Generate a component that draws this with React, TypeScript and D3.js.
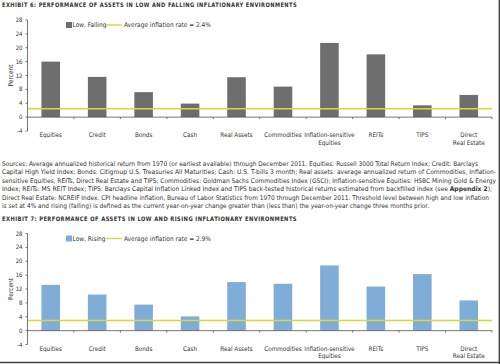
import { useEffect, useRef } from "react";
import * as d3 from "d3";

const categories = [
  "Equities",
  "Credit",
  "Bonds",
  "Cash",
  "Real Assets",
  "Commodities",
  "Inflation-sensitive\nEquities",
  "REITs",
  "TIPS",
  "Direct\nReal Estate",
];
const lowFalling = [16.0, 11.6, 7.2, 3.9, 11.5, 8.8, 21.4, 18.1, 3.4, 6.4];
const lowRising = [13.2, 10.4, 7.5, 4.1, 14.0, 13.5, 18.8, 12.7, 16.3, 8.7];
const inflationFalling = 2.4;
const inflationRising = 2.9;
const yTicks = [-4, 0, 4, 8, 12, 16, 20, 24, 28];

const sourceLines = [
  "Sources: Average annualized historical return from 1970 (or earliest available) through December 2011. Equities: Russell 3000 Total Return Index; Credit: Barclays",
  "Capital High Yield Index; Bonds: Citigroup U.S. Treasuries All Maturities; Cash: U.S. T-bills 3 month; Real assets: average annualized return of Commodities, Inflation-",
  "sensitive Equities, REITs, Direct Real Estate and TIPS; Commodities: Goldman Sachs Commodities Index (GSCI); Inflation-sensitive Equities: HSBC Mining Gold & Energy",
  "Index; REITs: MS REIT Index; TIPS: Barclays Capital Inflation Linked Index and TIPS back-tested historical returns estimated from backfilled index (see |Appendix 2|);",
  "Direct Real Estate: NCREIF Index. CPI headline inflation, Bureau of Labor Statistics from 1970 through December 2011. Threshold level between high and low inflation",
  "is set at 4% and rising (falling) is defined as the current year-on-year change greater than (less than) the year-on-year change three months prior.",
];
const sourceWidths = [478, 496, 496, 492, 489, 429];

const NARROW = "'Liberation Sans Narrow', 'DejaVu Sans Condensed', 'Roboto', sans-serif";
const LINE_COLOR = "#d5d83a";

type ChartOpts = {
  top: number;
  values: number[];
  inflation: number;
  barColor: string;
  title: string;
  seriesName: string;
};

function drawChart(root: d3.Selection<SVGGElement, unknown, null, undefined>, o: ChartOpts) {
  const g = root.append("g").attr("transform", `translate(0, ${o.top})`);
  const left = 27.5;
  const right = 492;
  const y = d3.scaleLinear().domain([-4, 28]).range([131, 20]);
  const x = d3.scaleBand<string>().domain(categories).range([left, right]).paddingInner(0.6).paddingOuter(0.3);
  const xb = d3.scaleBand<string>().domain(categories).range([left, right]);

  g.append("text")
    .attr("x", 2)
    .attr("y", 5)
    .attr("dy", "0.35em")
    .attr("font-family", "'DejaVu Sans', sans-serif")
    .attr("font-weight", "bold")
    .attr("font-size", 6.2)
    .attr("letter-spacing", 0.5)
    .attr("fill", "#333")
    .attr("textLength", 295)
    .attr("lengthAdjust", "spacingAndGlyphs")
    .text(o.title);

  // bars
  g.selectAll("rect.bar")
    .data(o.values)
    .enter()
    .append("rect")
    .attr("class", "bar")
    .attr("x", (_, i) => x(categories[i])!)
    .attr("width", x.bandwidth())
    .attr("y", (d) => y(Math.max(0, d)))
    .attr("height", (d) => Math.abs(y(d) - y(0)))
    .attr("fill", o.barColor);

  // inflation line
  g.append("line")
    .attr("x1", left)
    .attr("x2", right)
    .attr("y1", y(o.inflation))
    .attr("y2", y(o.inflation))
    .attr("stroke", LINE_COLOR)
    .attr("stroke-width", 1.6);

  // y axis
  g.append("line")
    .attr("x1", left)
    .attr("x2", left)
    .attr("y1", y(28))
    .attr("y2", y(-4))
    .attr("stroke", "#555")
    .attr("stroke-width", 0.8);
  yTicks.forEach((t) => {
    g.append("line")
      .attr("x1", left - 2)
      .attr("x2", left)
      .attr("y1", y(t))
      .attr("y2", y(t))
      .attr("stroke", "#555")
      .attr("stroke-width", 0.8);
    g.append("text")
      .attr("x", left - 5)
      .attr("y", y(t))
      .attr("dy", "0.35em")
      .attr("text-anchor", "end")
      .attr("font-family", NARROW)
      .attr("font-size", 6)
      .attr("fill", "#333")
      .text(t);
  });
  g.append("text")
    .attr("transform", `translate(11, ${y(12)}) rotate(-90)`)
    .attr("text-anchor", "middle")
    .attr("dy", "0.35em")
    .attr("font-family", NARROW)
    .attr("font-size", 6.5)
    .attr("fill", "#333")
    .text("Percent");

  // x axis at zero
  g.append("line")
    .attr("x1", left)
    .attr("x2", right)
    .attr("y1", y(0))
    .attr("y2", y(0))
    .attr("stroke", "#555")
    .attr("stroke-width", 0.8);
  categories.forEach((c) => {
    const bx = xb(c)! + xb.bandwidth();
    g.append("line")
      .attr("x1", bx)
      .attr("x2", bx)
      .attr("y1", y(0))
      .attr("y2", y(0) + 2)
      .attr("stroke", "#555")
      .attr("stroke-width", 0.8);
    const lines = c.split("\n");
    lines.forEach((ln, j) => {
      g.append("text")
        .attr("x", x(c)! + x.bandwidth() / 2)
        .attr("y", 135 + j * 7.6)
        .attr("dy", "0.35em")
        .attr("text-anchor", "middle")
        .attr("font-family", NARROW)
        .attr("font-size", 6.3)
        .attr("fill", "#333")
        .text(ln);
    });
  });

  // legend
  const lg = g.append("g").attr("transform", "translate(66, 25)");
  lg.append("rect").attr("x", 0).attr("y", -3).attr("width", 6).attr("height", 6).attr("fill", o.barColor);
  lg.append("text")
    .attr("x", 6.5)
    .attr("dy", "0.35em")
    .attr("font-family", NARROW)
    .attr("font-size", 6.5)
    .attr("fill", "#333")
    .text(o.seriesName);
  lg.append("line").attr("x1", 40).attr("x2", 56).attr("stroke", LINE_COLOR).attr("stroke-width", 1.4);
  lg.append("text")
    .attr("x", 58)
    .attr("dy", "0.35em")
    .attr("font-family", NARROW)
    .attr("font-size", 6.5)
    .attr("fill", "#333")
    .text(`Average inflation rate = ${o.inflation}%`);
}

export default function App() {
  const ref = useRef<SVGSVGElement | null>(null);

  useEffect(() => {
    if (!ref.current) return;
    const svg = d3.select(ref.current);
    svg.selectAll("*").remove();
    const root = svg.append("g");

    drawChart(root, {
      top: 0,
      values: lowFalling,
      inflation: inflationFalling,
      barColor: "#6e6e6e",
      title: "EXHIBIT 6: PERFORMANCE OF ASSETS IN LOW AND FALLING INFLATIONARY ENVIRONMENTS",
      seriesName: "Low, Falling",
    });

    // source note
    sourceLines.forEach((ln, i) => {
      const t = root
        .append("text")
        .attr("x", 2)
        .attr("y", 163.5 + i * 8.5)
        .attr("dy", "0.35em")
        .attr("font-family", NARROW)
        .attr("font-size", 6.4)
        .attr("fill", "#333")
        .attr("textLength", sourceWidths[i] - 2)
        .attr("lengthAdjust", "spacingAndGlyphs");
      ln.split("|").forEach((part, k) => {
        t.append("tspan").attr("font-weight", k === 1 ? "bold" : "normal").text(part);
      });
    });

    drawChart(root, {
      top: 213.5,
      values: lowRising,
      inflation: inflationRising,
      barColor: "#80acd8",
      title: "EXHIBIT 7: PERFORMANCE OF ASSETS IN LOW AND RISING INFLATIONARY ENVIRONMENTS",
      seriesName: "Low, Rising",
    });

    // page borders
    root.append("line").attr("x1", 0).attr("x2", 500).attr("y1", 362.5).attr("y2", 362.5).attr("stroke", "#444").attr("stroke-width", 1.5);
    root.append("line").attr("x1", 499.3).attr("x2", 499.3).attr("y1", 0).attr("y2", 364).attr("stroke", "#444").attr("stroke-width", 1.4);
  }, []);

  return (
    <svg
      ref={ref}
      width={500}
      height={364}
      style={{ position: "absolute", left: 0, top: 0, background: "#fff" }}
    />
  );
}
